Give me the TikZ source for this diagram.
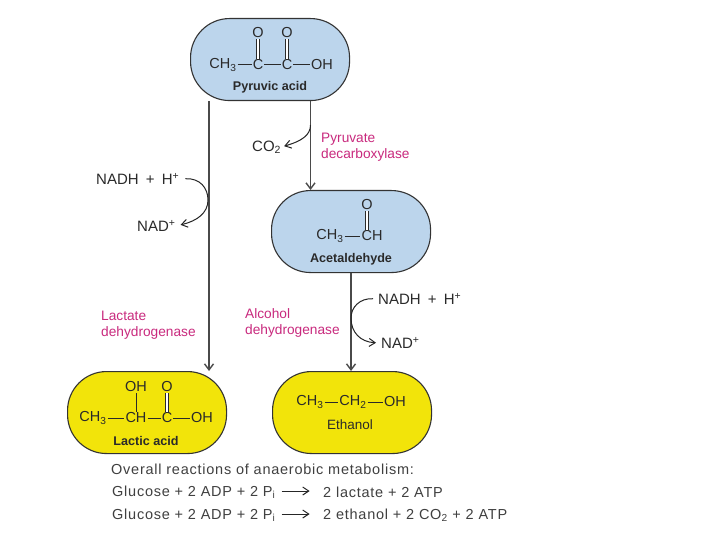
\documentclass[tikz,border=0pt]{standalone}
\usepackage{fontspec}
\setmainfont{Liberation Sans}
\usetikzlibrary{arrows.meta,calc}
\definecolor{pillblue}{HTML}{BCD5EC}
\definecolor{pillyellow}{HTML}{F2E40A}
\definecolor{enzpink}{HTML}{C92A7E}
\definecolor{inkc}{HTML}{2A2A2A}
\definecolor{pathc}{HTML}{4A4A4A}
\newcommand{\fsz}[1]{\fontsize{#1}{#1}\selectfont}
\newcommand{\wsz}[1]{\fontsize{#1}{#1}\selectfont\addfontfeature{LetterSpace=5.2}}
\newcommand{\gp}{\hspace{3pt}}
\tikzset{
  x=1pt,y=-1pt,
  pill/.style={draw=black!80,line width=1.1pt,rounded corners=39pt,minimum width=159pt,minimum height=82pt,inner sep=0pt,anchor=north west},
  bluepill/.style={pill,fill=pillblue},
  yellowpill/.style={pill,fill=pillyellow},
  atom/.style={inner sep=1pt,text=inkc,font=\fsz{14.5}},
  molname/.style={inner sep=0pt,text=inkc,font=\fsz{12.6}\bfseries},
  bond/.style={draw=inkc,line width=1pt},
  dbond/.style={draw=inkc,line width=.8pt,double=white,double distance=2.2pt},
  pathway/.style={draw=pathc,line width=1.4pt,-{Straight Barb[length=6pt,width=9pt]}},
  curved/.style={draw=black!85,line width=1pt,-{Straight Barb[length=6pt,width=8pt]}},
  cof/.style={inner sep=0pt,anchor=west,text=inkc,font=\fsz{15}},
  enz/.style={inner sep=0pt,anchor=north west,align=left,text=enzpink,font=\fontsize{13.7}{16}\selectfont},
  sumline/.style={inner sep=0pt,anchor=west,text=black!75,font=\wsz{14.5}},
}
\begin{document}
\begin{tikzpicture}
\useasboundingbox[fill=white] (0,0) rectangle (720,540);
% pills
\node[bluepill] (pyr) at (190,18) {};
\node[bluepill] (ace) at (271,190) {};
\node[yellowpill] (lac) at (67,371) {};
\node[yellowpill] (eth) at (272,371) {};
% pyruvic acid
\node[atom] (p1) at (223,65) {CH\textsubscript{3}};
\node[atom] (p2) at (258,65) {C};
\node[atom] (p3) at (287,65) {C};
\node[atom] (p4) at (322,65) {OH};
\node[atom] (p5) at (258,33) {O};
\node[atom] (p6) at (287,33) {O};
\draw[bond] (p1)--(p2); \draw[bond] (p2)--(p3); \draw[bond] (p3)--(p4);
\draw[dbond] (p2)--(p5); \draw[dbond] (p3)--(p6);
\node[molname] (pn) at (270,87) {Pyruvic acid};
% acetaldehyde
\node[atom] (a1) at (330,236) {CH\textsubscript{3}};
\node[atom] (a2) at (372,236) {CH};
\node[atom] (a3) at (367,205) {O};
\draw[bond] (a1)--(a2);
\draw[dbond] (a3)--(a3|-a2.north);
\node[molname] (an) at (351,259) {Acetaldehyde};
% lactic acid
\node[atom] (l1) at (93,418) {CH\textsubscript{3}};
\node[atom] (l2) at (136,418) {CH};
\node[atom] (l3) at (167,418) {C};
\node[atom] (l4) at (202,418) {OH};
\node[atom] (l5) at (136,387) {OH};
\node[atom] (l6) at (167,387) {O};
\draw[bond] (l1)--(l2); \draw[bond] (l2)--(l3); \draw[bond] (l3)--(l4);
\draw[bond] (l2)--(l5); \draw[dbond] (l3)--(l6);
\node[molname] (ln) at (146,441) {Lactic acid};
% ethanol
\node[atom] (e1) at (310,402) {CH\textsubscript{3}};
\node[atom] (e2) at (353,402) {CH\textsubscript{2}};
\node[atom] (e3) at (395,402) {OH};
\draw[bond] (e1)--(e2); \draw[bond] (e2)--(e3);
\node[molname,font=\fsz{13.5}] (en) at (350,425) {Ethanol};
% main pathways
\coordinate (s1) at ($(pyr.south west)+(19,0)$);
\coordinate (s2) at ($(pyr.south west)+(120.5,0)$);
\coordinate (s3) at ($(ace.south west)+(80,0)$);
\draw[pathway] (s1)--(s1|-lac.north);
\draw[pathway] (s2)--(s2|-ace.north);
\draw[pathway] (s3)--(s3|-eth.north);
% cofactors
\node[cof] (co2) at (252,147) {CO\textsubscript{2}};
\node[cof] (n1) at (96,179) {NADH\gp{} + \gp{}H\textsuperscript{+}};
\node[cof] (n2) at (137,226) {NAD\textsuperscript{+}};
\node[cof] (n3) at (378,299) {NADH\gp{} + \gp{}H\textsuperscript{+}};
\node[cof] (n4) at (381,343) {NAD\textsuperscript{+}};
\coordinate (c0) at (310.5,125);
\draw[curved,shorten >=3pt] (c0) .. controls (310.5,135) and (302,141) .. (co2.east);
\draw[curved,shorten <=6pt,shorten >=5pt] (n1.east) .. controls (200,178) and (208,188) .. (208,200) .. controls (208,213) and (197,221) .. (n2.east);
\draw[curved,shorten <=5pt,shorten >=5pt] (n3.west) .. controls (360,298) and (351,307) .. (351,318) .. controls (351,332) and (360,342) .. (n4.west);
% enzymes
\node[enz] (z1) at (321,133) {Pyruvate\\decarboxylase};
\node[enz] (z2) at (101,311) {Lactate\\dehydrogenase};
\node[enz] (z3) at (245,308) {Alcohol\\dehydrogenase};
% summary
\node[sumline] (h) at (111,469) {Overall reactions of anaerobic metabolism:};
\node[sumline] (g1) at (112,492) {Glucose + 2 ADP + 2 P\textsubscript{i}};
\node[sumline] (r1) at (323,492) {2 lactate + 2 ATP};
\node[sumline] (g2) at (112,515) {Glucose + 2 ADP + 2 P\textsubscript{i}};
\node[sumline] (r2) at (323,515) {2 ethanol + 2 CO\textsubscript{2} + 2 ATP};
\draw[curved] (g1.east)++(6,-1) -- +(28,0);
\draw[curved] (g2.east)++(6,-1) -- +(28,0);
\end{tikzpicture}
\end{document}
